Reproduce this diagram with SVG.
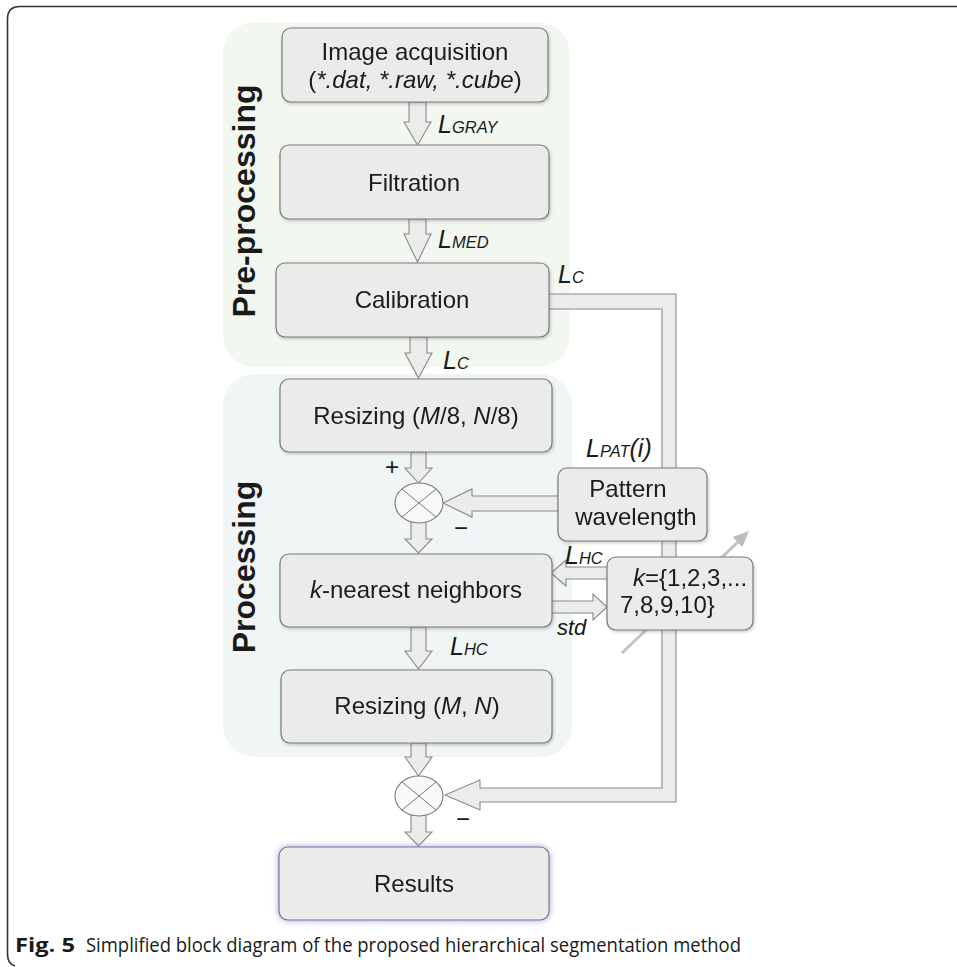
<svg xmlns="http://www.w3.org/2000/svg" width="957" height="967" viewBox="0 0 957 967">
<style>
.t{font-family:"Liberation Sans",Arial,sans-serif;font-size:24px;fill:#1a1a1a}
.m{text-anchor:middle}
.i{font-style:italic}
.lbl{font-family:"Liberation Sans",Arial,sans-serif;font-style:italic;fill:#1a1a1a}
.L{font-size:25px}
.s{font-size:16.5px}
.vt{font-family:"Liberation Sans",Arial,sans-serif;font-weight:bold;font-size:32px;fill:#1a1a1a;text-anchor:middle}
.box{fill:#ebebeb;stroke:#7a7a7a;stroke-width:1.2}
.arr{fill:#ececec;stroke:#8a8a8a;stroke-width:1.1;stroke-linejoin:miter}
.sum{fill:#f8f8f8;stroke:#7a7a7a;stroke-width:1.1}
.x{stroke:#7a7a7a;stroke-width:1}
.cap{font-family:"Open Sans","Noto Sans",sans-serif;font-size:20px;fill:#1a1a1a}
</style>
<defs>
<filter id="sh" x="-10%" y="-10%" width="120%" height="130%">
<feDropShadow dx="1" dy="1.5" stdDeviation="1.5" flood-color="#000" flood-opacity="0.22"/>
</filter>
<filter id="glow" x="-10%" y="-20%" width="120%" height="140%">
<feDropShadow dx="0" dy="0" stdDeviation="3" flood-color="#8a78e0" flood-opacity="0.75"/>
</filter>
</defs>
<rect width="957" height="967" fill="#fff"/>
<path d="M957 6.5H20Q7.5 6.5 7.5 19V954Q7.5 964 15 966" fill="none" stroke="#333" stroke-width="1.6"/>

<g id="bg-preprocessing">
<rect x="223" y="22" width="347" height="345" rx="32" fill="#f2f8ef"/>
<text class="vt" transform="translate(255 201) rotate(-90)">Pre-processing</text>
</g>
<g id="bg-processing">
<rect x="223" y="374" width="349" height="383" rx="32" fill="#f0f5f5"/>
<text class="vt" transform="translate(255 567) rotate(-90)">Processing</text>
</g>

<g id="connectors">
<path class="arr" d="M545 294H676V802H480V810L445 795L480 780V788H662V309H545Z"/>
<line x1="622" y1="653" x2="739" y2="541" stroke="#c2c2c2" stroke-width="3"/>
<polygon points="749,531 742.3,547.1 732.7,537.1" fill="#bdbdbd"/>
<polygon class="arr" points="409,102 426,102 426,122 431,122 417.5,145 404,122 409,122"/>
<polygon class="arr" points="409,219 426,219 426,234 431,234 417.5,262 404,234 409,234"/>
<polygon class="arr" points="410,337 427,337 427,353 432,353 418.5,378 405,353 410,353"/>
<polygon class="arr" points="411,452 426,452 426,468 432,468 418.5,483 405,468 411,468"/>
<polygon class="arr" points="411,522 426,522 426,539 432,539 418.5,553 405,539 411,539"/>
<polygon class="arr" points="411,627 426,627 426,651 432,651 418.5,669 405,651 411,651"/>
<polygon class="arr" points="411,743 426,743 426,757 432,757 418.5,776 405,757 411,757"/>
<polygon class="arr" points="411,815 426,815 426,832 432,832 418.5,846 405,832 411,832"/>
<polygon class="arr" points="560,496 472,496 472,489 443,503 472,517 472,511 560,511"/>
<polygon class="arr" points="610,567 566,567 566,560 551,573 566,586 566,579 610,579"/>
<polygon class="arr" points="549,601 593,601 593,594 607,607 593,620 593,613 549,613"/>
<ellipse class="sum" cx="419" cy="503" rx="24" ry="20"/>
<line class="x" x1="402" y1="489" x2="436" y2="517"/>
<line class="x" x1="436" y1="489" x2="402" y2="517"/>
<ellipse class="sum" cx="419" cy="796" rx="24" ry="20"/>
<line class="x" x1="402" y1="782" x2="436" y2="810"/>
<line class="x" x1="436" y1="782" x2="402" y2="810"/>
<text class="lbl" x="438" y="133"><tspan class="L">L</tspan><tspan class="s">GRAY</tspan></text>
<text class="lbl" x="438" y="248"><tspan class="L">L</tspan><tspan class="s">MED</tspan></text>
<text class="lbl" x="558" y="283"><tspan class="L">L</tspan><tspan class="s">C</tspan></text>
<text class="lbl" x="443" y="369"><tspan class="L">L</tspan><tspan class="s">C</tspan></text>
<text class="lbl" x="586" y="457"><tspan class="L">L</tspan><tspan class="s">PAT</tspan><tspan class="L">(i)</tspan></text>
<text class="lbl" x="565" y="564"><tspan class="L">L</tspan><tspan class="s">HC</tspan></text>
<text class="lbl" x="557" y="635" font-size="22">std</text>
<text class="lbl" x="450" y="655"><tspan class="L">L</tspan><tspan class="s">HC</tspan></text>
<text class="t m" x="392" y="475" font-size="22">+</text>
<text class="t m" x="461" y="536" font-size="28">−</text>
<text class="t m" x="463" y="827" font-size="28">−</text>
</g>

<g id="n-acquisition" filter="url(#sh)">
<rect class="box" x="282" y="28" width="266" height="74" rx="9"/>
<text class="t m" x="415" y="60">Image acquisition</text>
<text class="t m" x="415" y="88">(<tspan class="i">*.dat, *.raw, *.cube</tspan>)</text>
</g>
<g id="n-filtration" filter="url(#sh)">
<rect class="box" x="280" y="145" width="269" height="74" rx="9"/>
<text class="t m" x="414" y="191">Filtration</text>
</g>
<g id="n-calibration" filter="url(#sh)">
<rect class="box" x="276" y="263" width="273" height="74" rx="9"/>
<text class="t m" x="412" y="308">Calibration</text>
</g>
<g id="n-resize8" filter="url(#sh)">
<rect class="box" x="280" y="379" width="272" height="73" rx="9"/>
<text class="t m" x="416" y="424">Resizing (<tspan class="i">M</tspan>/8, <tspan class="i">N</tspan>/8)</text>
</g>
<g id="n-pattern" filter="url(#sh)">
<rect class="box" x="558" y="468" width="149" height="73" rx="9"/>
<text class="t m" x="628" y="497">Pattern</text>
<text class="t m" x="636" y="525">wavelength</text>
</g>
<g id="n-knn" filter="url(#sh)">
<rect class="box" x="280" y="554" width="272" height="73" rx="9"/>
<text class="t m" x="416" y="598"><tspan class="i">k</tspan>-nearest neighbors</text>
</g>
<g id="n-k" filter="url(#sh)">
<rect class="box" x="607" y="557" width="146" height="73" rx="9"/>
<text class="t" x="633" y="586"><tspan class="i">k</tspan>={1,2,3,...</text>
<text class="t" x="620" y="613">7,8,9,10}</text>
</g>
<g id="n-resize" filter="url(#sh)">
<rect class="box" x="281" y="670" width="271" height="73" rx="9"/>
<text class="t m" x="417" y="714">Resizing (<tspan class="i">M</tspan>, <tspan class="i">N</tspan>)</text>
</g>
<g id="n-results" filter="url(#glow)">
<rect class="box" x="279" y="847" width="270" height="73" rx="9"/>
<text class="t m" x="414" y="892">Results</text>
</g>

<g id="caption">
<text class="cap" x="15" y="952" font-weight="bold" textLength="60" lengthAdjust="spacingAndGlyphs">Fig. 5</text>
<text class="cap" x="86" y="952" textLength="655" lengthAdjust="spacingAndGlyphs">Simplified block diagram of the proposed hierarchical segmentation method</text>
</g>
</svg>
